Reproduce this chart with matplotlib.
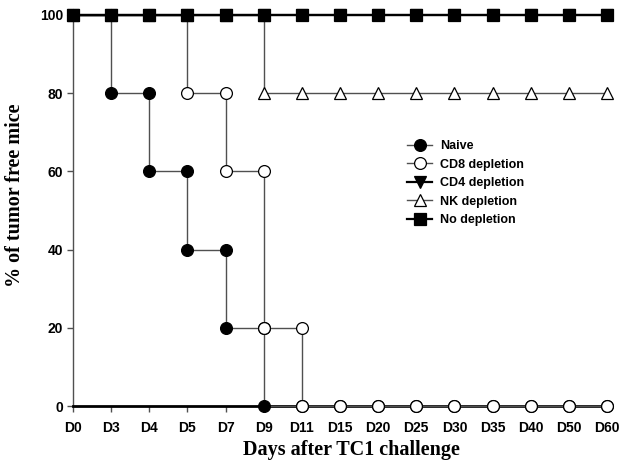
import matplotlib
matplotlib.use("Agg")
import matplotlib.pyplot as plt

# Days after challenge (categorical, equally spaced)
days = ["D0", "D3", "D4", "D5", "D7", "D9", "D11", "D15", "D20", "D25",
        "D30", "D35", "D40", "D50", "D60"]

# % tumor free mice at each day
naive = [100, 80, 60, 40, 20, 0, 0, 0, 0, 0, 0, 0, 0, 0, 0]
cd8 = [100, 100, 100, 80, 60, 20, 0, 0, 0, 0, 0, 0, 0, 0, 0]
cd4 = [100] * 15
nk = [100, 100, 100, 100, 100, 80, 80, 80, 80, 80, 80, 80, 80, 80, 80]
no_dep = [100] * 15

series = [
    ("Naive", naive, "o", "black", "#505050", 1.0),
    ("CD8 depletion", cd8, "o", "white", "#505050", 1.0),
    ("CD4 depletion", cd4, "v", "black", "black", 1.6),
    ("NK depletion", nk, "^", "white", "#505050", 1.0),
    ("No depletion", no_dep, "s", "black", "black", 1.6),
]


def step_points(vals):
    xs, ys = [], []
    for i, v in enumerate(vals):
        if i > 0 and v != vals[i - 1]:
            xs.append(i)
            ys.append(vals[i - 1])
        xs.append(i)
        ys.append(v)
    return xs, ys


fig = plt.figure(figsize=(6.29, 4.7), dpi=100)
ax = fig.add_axes([73 / 629, 1 - 406 / 470, (607 - 73) / 629, (406 - 15) / 470])

for label, vals, mk, face, lc, lw in series:
    xs, ys = step_points(vals)
    ax.plot(xs, ys, color=lc, lw=lw, marker=mk, markersize=8.5,
            markerfacecolor=face, markeredgecolor="black", markeredgewidth=0.9,
            label=label, clip_on=False, zorder=3)

ax.set_xlim(0, 14)
ax.set_ylim(0, 100)
ax.set_xticks(range(len(days)))
ax.set_xticklabels(days)
ax.set_yticks([0, 20, 40, 60, 80, 100])

for s in ["top", "right"]:
    ax.spines[s].set_visible(False)
ax.spines["bottom"].set_linewidth(2.0)
ax.spines["left"].set_linewidth(1.0)
ax.spines["left"].set_color("#505050")
ax.tick_params(axis="both", direction="out", length=4, width=1, color="#505050")
ax.tick_params(axis="x", pad=7)
ax.tick_params(axis="y", pad=3)
for t in ax.get_xticklabels() + ax.get_yticklabels():
    t.set_fontfamily("Liberation Sans")
    t.set_fontweight("bold")
    t.set_fontsize(10)

ax.set_xlabel("Days after TC1 challenge", fontfamily="Liberation Serif",
              fontweight="bold", fontsize=14.5)
ax.set_ylabel("% of tumor free mice", fontfamily="Liberation Serif",
              fontweight="bold", fontsize=14.5)
ax.xaxis.set_label_coords(0.5215, -0.087)
ax.yaxis.set_label_coords(-0.09, 0.54)

leg = ax.legend(loc="upper left", bbox_to_anchor=(401 / 629, 1 - 134 / 470),
                bbox_transform=fig.transFigure, frameon=False, borderpad=0,
                handlelength=2.0, handletextpad=0.6, labelspacing=0.52,
                prop={"family": "Liberation Sans", "weight": "bold", "size": 9})

fig.savefig("out.png", dpi=100)
